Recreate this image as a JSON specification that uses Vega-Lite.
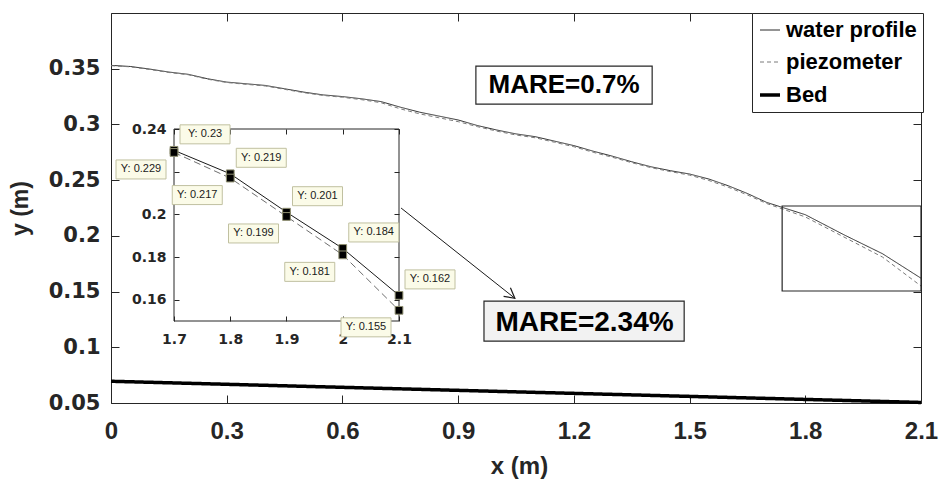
{
  "$schema": "https://vega.github.io/schema/vega-lite/v6.json",
  "width": 810,
  "height": 390,
  "autosize": {"type": "none"},
  "padding": {"left": 111, "top": 13, "right": 18, "bottom": 76},
  "background": "white",
  "datasets": {
    "main": [
      {"series": "water profile", "x": 0, "y": 0.353},
      {"series": "water profile", "x": 0.05, "y": 0.352},
      {"series": "water profile", "x": 0.1, "y": 0.3497},
      {"series": "water profile", "x": 0.15, "y": 0.347},
      {"series": "water profile", "x": 0.2, "y": 0.345},
      {"series": "water profile", "x": 0.25, "y": 0.341},
      {"series": "water profile", "x": 0.3, "y": 0.338},
      {"series": "water profile", "x": 0.35, "y": 0.3365},
      {"series": "water profile", "x": 0.4, "y": 0.335},
      {"series": "water profile", "x": 0.45, "y": 0.332},
      {"series": "water profile", "x": 0.5, "y": 0.329},
      {"series": "water profile", "x": 0.55, "y": 0.3265},
      {"series": "water profile", "x": 0.6, "y": 0.325},
      {"series": "water profile", "x": 0.65, "y": 0.323},
      {"series": "water profile", "x": 0.7, "y": 0.3205},
      {"series": "water profile", "x": 0.75, "y": 0.3155},
      {"series": "water profile", "x": 0.8, "y": 0.311},
      {"series": "water profile", "x": 0.85, "y": 0.3075},
      {"series": "water profile", "x": 0.9, "y": 0.304},
      {"series": "water profile", "x": 0.95, "y": 0.299},
      {"series": "water profile", "x": 1.0, "y": 0.295},
      {"series": "water profile", "x": 1.05, "y": 0.2915},
      {"series": "water profile", "x": 1.1, "y": 0.289},
      {"series": "water profile", "x": 1.15, "y": 0.285},
      {"series": "water profile", "x": 1.2, "y": 0.281},
      {"series": "water profile", "x": 1.25, "y": 0.276},
      {"series": "water profile", "x": 1.3, "y": 0.2715},
      {"series": "water profile", "x": 1.35, "y": 0.2665},
      {"series": "water profile", "x": 1.4, "y": 0.262},
      {"series": "water profile", "x": 1.45, "y": 0.2585},
      {"series": "water profile", "x": 1.5, "y": 0.2555},
      {"series": "water profile", "x": 1.55, "y": 0.251},
      {"series": "water profile", "x": 1.6, "y": 0.245},
      {"series": "water profile", "x": 1.65, "y": 0.238},
      {"series": "water profile", "x": 1.7, "y": 0.23},
      {"series": "water profile", "x": 1.8, "y": 0.219},
      {"series": "water profile", "x": 1.9, "y": 0.201},
      {"series": "water profile", "x": 2.0, "y": 0.184},
      {"series": "water profile", "x": 2.1, "y": 0.162},
      {"series": "piezometer", "x": 0, "y": 0.3527},
      {"series": "piezometer", "x": 0.05, "y": 0.3517},
      {"series": "piezometer", "x": 0.1, "y": 0.3493},
      {"series": "piezometer", "x": 0.15, "y": 0.3466},
      {"series": "piezometer", "x": 0.2, "y": 0.3446},
      {"series": "piezometer", "x": 0.25, "y": 0.3406},
      {"series": "piezometer", "x": 0.3, "y": 0.3376},
      {"series": "piezometer", "x": 0.35, "y": 0.336},
      {"series": "piezometer", "x": 0.4, "y": 0.3345},
      {"series": "piezometer", "x": 0.45, "y": 0.3315},
      {"series": "piezometer", "x": 0.5, "y": 0.3285},
      {"series": "piezometer", "x": 0.55, "y": 0.326},
      {"series": "piezometer", "x": 0.6, "y": 0.3244},
      {"series": "piezometer", "x": 0.65, "y": 0.3222},
      {"series": "piezometer", "x": 0.7, "y": 0.3195},
      {"series": "piezometer", "x": 0.75, "y": 0.314},
      {"series": "piezometer", "x": 0.8, "y": 0.3095},
      {"series": "piezometer", "x": 0.85, "y": 0.306},
      {"series": "piezometer", "x": 0.9, "y": 0.3025},
      {"series": "piezometer", "x": 0.95, "y": 0.298},
      {"series": "piezometer", "x": 1.0, "y": 0.294},
      {"series": "piezometer", "x": 1.05, "y": 0.2905},
      {"series": "piezometer", "x": 1.1, "y": 0.288},
      {"series": "piezometer", "x": 1.15, "y": 0.284},
      {"series": "piezometer", "x": 1.2, "y": 0.28},
      {"series": "piezometer", "x": 1.25, "y": 0.275},
      {"series": "piezometer", "x": 1.3, "y": 0.2705},
      {"series": "piezometer", "x": 1.35, "y": 0.2657},
      {"series": "piezometer", "x": 1.4, "y": 0.2612},
      {"series": "piezometer", "x": 1.45, "y": 0.2577},
      {"series": "piezometer", "x": 1.5, "y": 0.2545},
      {"series": "piezometer", "x": 1.55, "y": 0.2497},
      {"series": "piezometer", "x": 1.6, "y": 0.2437},
      {"series": "piezometer", "x": 1.65, "y": 0.2367},
      {"series": "piezometer", "x": 1.7, "y": 0.229},
      {"series": "piezometer", "x": 1.8, "y": 0.217},
      {"series": "piezometer", "x": 1.9, "y": 0.199},
      {"series": "piezometer", "x": 2.0, "y": 0.181},
      {"series": "piezometer", "x": 2.1, "y": 0.155},
      {"series": "Bed", "x": 0, "y": 0.0695},
      {"series": "Bed", "x": 2.1, "y": 0.0505}
    ],
    "inset": [
      {"series": "water profile", "x": 1.7, "y": 0.23, "tip": "Y: 0.23"},
      {"series": "water profile", "x": 1.8, "y": 0.219, "tip": "Y: 0.219"},
      {"series": "water profile", "x": 1.9, "y": 0.201, "tip": "Y: 0.201"},
      {"series": "water profile", "x": 2.0, "y": 0.184, "tip": "Y: 0.184"},
      {"series": "water profile", "x": 2.1, "y": 0.162, "tip": "Y: 0.162"},
      {"series": "piezometer", "x": 1.7, "y": 0.229, "tip": "Y: 0.229"},
      {"series": "piezometer", "x": 1.8, "y": 0.217, "tip": "Y: 0.217"},
      {"series": "piezometer", "x": 1.9, "y": 0.199, "tip": "Y: 0.199"},
      {"series": "piezometer", "x": 2.0, "y": 0.181, "tip": "Y: 0.181"},
      {"series": "piezometer", "x": 2.1, "y": 0.155, "tip": "Y: 0.155"}
    ]
  },
  "resolve": {
    "scale": {"x": "independent", "y": "independent"},
    "axis": {"x": "independent", "y": "independent"}
  },
  "layer": [
    {
      "encoding": {
        "x": {
          "field": "x", "type": "quantitative",
          "scale": {"domain": [0, 2.1], "nice": false, "zero": false},
          "axis": {
            "orient": "bottom", "values": [0, 0.3, 0.6, 0.9, 1.2, 1.5, 1.8, 2.1], "format": "~g",
            "domain": false, "tickSize": -8, "labelPadding": 24, "labelFlush": false, "labelOverlap": false,
            "labelFont": "Liberation Sans", "labelFontWeight": "bold", "labelFontSize": 24,
            "title": "x (m)", "titleFont": "Liberation Sans", "titleFontWeight": "bold", "titleFontSize": 24,
            "titleX": 408, "titleY": 63, "titleBaseline": "middle", "titleAlign": "center"
          }
        },
        "y": {
          "field": "y", "type": "quantitative",
          "scale": {"domain": [0.05, 0.4], "nice": false, "zero": false},
          "axis": {
            "orient": "left", "values": [0.05, 0.1, 0.15, 0.2, 0.25, 0.3, 0.35], "format": "~g",
            "domain": false, "tickSize": -8, "labelPadding": 19, "labelFlush": false, "labelOverlap": false,
            "labelFont": "DejaVu Sans", "labelFontWeight": "bold", "labelFontSize": 21,
            "title": "y (m)", "titleFont": "Liberation Sans", "titleFontWeight": "bold", "titleFontSize": 23,
            "titleX": -91, "titleY": 195, "titleAngle": -90, "titleBaseline": "middle", "titleAlign": "center"
          }
        }
      },
      "layer": [
        {
          "data": {"name": "main"},
          "mark": {"type": "line", "clip": false},
          "encoding": {
            "color": {
              "field": "series", "type": "nominal",
              "scale": {"domain": ["water profile", "piezometer", "Bed"], "range": ["#2b2b2b", "#7a7a7a", "#000000"]},
              "legend": {
                "orient": "none", "legendX": 641, "legendY": 0, "title": null,
                "strokeColor": "#262626", "fillColor": "white", "padding": 6,
                "labelFont": "Liberation Sans", "labelFontWeight": "bold", "labelFontSize": 22, "labelColor": "#000000",
                "symbolType": "stroke", "symbolSize": 400, "rowPadding": 10, "labelOffset": 4, "labelLimit": 300
              }
            },
            "strokeDash": {
              "field": "series", "type": "nominal",
              "scale": {"domain": ["water profile", "piezometer", "Bed"], "range": [[1, 0], [4, 3], [1, 0]]},
              "legend": {"title": null}
            },
            "strokeWidth": {
              "field": "series", "type": "nominal",
              "scale": {"type": "ordinal", "domain": ["water profile", "piezometer", "Bed"], "range": [1, 1, 3.5]},
              "legend": {"title": null}
            }
          }
        },
        {
          "data": {"values": [{"x": 1.74, "x2": 2.1, "y": 0.2268, "y2": 0.1505}]},
          "mark": {"type": "rect", "filled": false, "color": "#262626", "strokeWidth": 1.2},
          "encoding": {"x2": {"field": "x2"}, "y2": {"field": "y2"}}
        },
        {
          "data": {"values": [{"x": 0.946, "x2": 1.403, "y": 0.3524, "y2": 0.3183}]},
          "mark": {"type": "rect", "fill": "white", "stroke": "#262626", "strokeWidth": 1.2},
          "encoding": {"x2": {"field": "x2"}, "y2": {"field": "y2"}}
        },
        {
          "data": {"values": [{"x": 0.967, "x2": 1.486, "y": 0.1415, "y2": 0.1056}]},
          "mark": {"type": "rect", "fill": "#f2f2f2", "stroke": "#262626", "strokeWidth": 1.2},
          "encoding": {"x2": {"field": "x2"}, "y2": {"field": "y2"}}
        },
        {
          "data": {"values": [{"x": 1.1745, "y": 0.3354, "label": "MARE=0.7%"}]},
          "mark": {"type": "text", "font": "Liberation Sans", "fontWeight": "bold", "fontSize": 26, "color": "#000000", "align": "center", "baseline": "middle"},
          "encoding": {"text": {"field": "label"}}
        },
        {
          "data": {"values": [{"x": 1.2277, "y": 0.1222, "label": "MARE=2.34%"}]},
          "mark": {"type": "text", "font": "Liberation Sans", "fontWeight": "bold", "fontSize": 28, "color": "#000000", "align": "center", "baseline": "middle"},
          "encoding": {"text": {"field": "label"}}
        },
        {
          "data": {"values": [{"x": 0.752, "y": 0.225, "x2": 1.047, "y2": 0.144}]},
          "mark": {"type": "rule", "color": "#1a1a1a", "strokeWidth": 1},
          "encoding": {"x2": {"field": "x2"}, "y2": {"field": "y2"}}
        },
        {
          "data": {"values": [{"x": 1.047, "y": 0.144}]},
          "mark": {"type": "point", "shape": "M-1,-0.55L0,0L-1,0.55", "size": 400, "angle": 38.4, "filled": false, "color": "#1a1a1a", "strokeWidth": 1.2, "opacity": 1},
          "encoding": {}
        }
      ]
    },
    {
      "data": {"name": "main"},
      "mark": {"type": "point", "opacity": 0},
      "encoding": {
        "x": {
          "field": "x", "type": "quantitative",
          "scale": {"domain": [0, 2.1], "nice": false, "zero": false},
          "axis": {"orient": "top", "values": [0, 0.3, 0.6, 0.9, 1.2, 1.5, 1.8, 2.1], "labels": false, "domain": false, "tickSize": -8, "title": null}
        },
        "y": {
          "field": "y", "type": "quantitative",
          "scale": {"domain": [0.05, 0.4], "nice": false, "zero": false},
          "axis": {"orient": "right", "values": [0.05, 0.1, 0.15, 0.2, 0.25, 0.3, 0.35], "labels": false, "domain": false, "tickSize": -8, "title": null}
        }
      }
    },
    {
      "encoding": {
        "x": {
          "field": "x", "type": "quantitative",
          "scale": {"domain": [1.7, 2.1], "range": [63, 288], "nice": false, "zero": false},
          "axis": {
            "orient": "bottom", "offset": -82, "values": [1.7, 1.8, 1.9, 2, 2.1], "format": "~g",
            "domain": false, "tickSize": -5, "labelPadding": 16, "labelFlush": false, "labelOverlap": false,
            "labelFont": "DejaVu Sans", "labelFontWeight": "bold", "labelFontSize": 14, "title": null
          }
        },
        "y": {
          "field": "y", "type": "quantitative",
          "scale": {"domain": [0.15, 0.24], "range": [308, 116], "nice": false, "zero": false},
          "axis": {
            "orient": "left", "offset": -63, "values": [0.16, 0.18, 0.2, 0.22, 0.24], "format": "~g",
            "labelExpr": "abs(datum.value - 0.22) < 0.001 ? '' : datum.label",
            "domain": false, "tickSize": -5, "labelPadding": 13, "labelFlush": false, "labelOverlap": false,
            "labelFont": "DejaVu Sans", "labelFontWeight": "bold", "labelFontSize": 14, "title": null
          }
        }
      },
      "layer": [
        {
          "data": {"values": [{"x": 1.7, "x2": 2.1, "y": 0.15, "y2": 0.24}]},
          "mark": {"type": "rect", "filled": false, "color": "#262626", "strokeWidth": 1},
          "encoding": {"x2": {"field": "x2"}, "y2": {"field": "y2"}}
        },
        {
          "data": {"name": "inset"},
          "transform": [{"filter": "datum.series === 'water profile'"}],
          "mark": {"type": "line", "color": "#1a1a1a", "strokeWidth": 1}
        },
        {
          "data": {"name": "inset"},
          "transform": [{"filter": "datum.series === 'piezometer'"}],
          "mark": {"type": "line", "color": "#6e6e6e", "strokeWidth": 1, "strokeDash": [7, 4]}
        },
        {
          "data": {"name": "inset"},
          "mark": {"type": "point", "shape": "square", "filled": true, "fill": "#000000", "stroke": "#8f8f70", "strokeWidth": 1, "size": 60, "opacity": 1}
        },
        {
          "data": {"name": "inset"},
          "transform": [{"filter": "datum.series === 'water profile'"}],
          "mark": {"type": "point", "shape": "M0.24,-1.02L2.24,-1.02L2.24,-0.26L0.24,-0.26Z", "size": 2500, "filled": true, "fill": "#fbfbe8", "stroke": "#c0c0a0", "strokeWidth": 1, "opacity": 1}
        },
        {
          "data": {"name": "inset"},
          "transform": [{"filter": "datum.series === 'piezometer'"}],
          "mark": {"type": "point", "shape": "M-2.32,0.3L-0.32,0.3L-0.32,1.06L-2.32,1.06Z", "size": 2500, "filled": true, "fill": "#fbfbe8", "stroke": "#c0c0a0", "strokeWidth": 1, "opacity": 1}
        },
        {
          "data": {"name": "inset"},
          "transform": [{"filter": "datum.series === 'water profile'"}],
          "mark": {"type": "text", "dx": 31, "dy": -16, "font": "Liberation Sans", "fontSize": 11, "color": "#1a1a1a", "align": "center", "baseline": "middle"},
          "encoding": {"text": {"field": "tip"}}
        },
        {
          "data": {"name": "inset"},
          "transform": [{"filter": "datum.series === 'piezometer'"}],
          "mark": {"type": "text", "dx": -33, "dy": 17, "font": "Liberation Sans", "fontSize": 11, "color": "#1a1a1a", "align": "center", "baseline": "middle"},
          "encoding": {"text": {"field": "tip"}}
        }
      ]
    },
    {
      "data": {"name": "inset"},
      "mark": {"type": "point", "opacity": 0},
      "encoding": {
        "x": {
          "field": "x", "type": "quantitative",
          "scale": {"domain": [1.7, 2.1], "range": [63, 288], "nice": false, "zero": false},
          "axis": {"orient": "top", "offset": -116, "values": [1.7, 1.8, 1.9, 2, 2.1], "labels": false, "domain": false, "tickSize": -5, "title": null}
        },
        "y": {
          "field": "y", "type": "quantitative",
          "scale": {"domain": [0.15, 0.24], "range": [308, 116], "nice": false, "zero": false},
          "axis": {"orient": "right", "offset": -522, "values": [0.16, 0.18, 0.2, 0.22, 0.24], "labels": false, "domain": false, "tickSize": -5, "title": null}
        }
      }
    }
  ],
  "config": {
    "view": {"stroke": "#262626", "strokeWidth": 1},
    "axis": {"grid": false, "tickColor": "#262626", "tickWidth": 1, "labelColor": "#262626", "titleColor": "#262626"}
  }
}
